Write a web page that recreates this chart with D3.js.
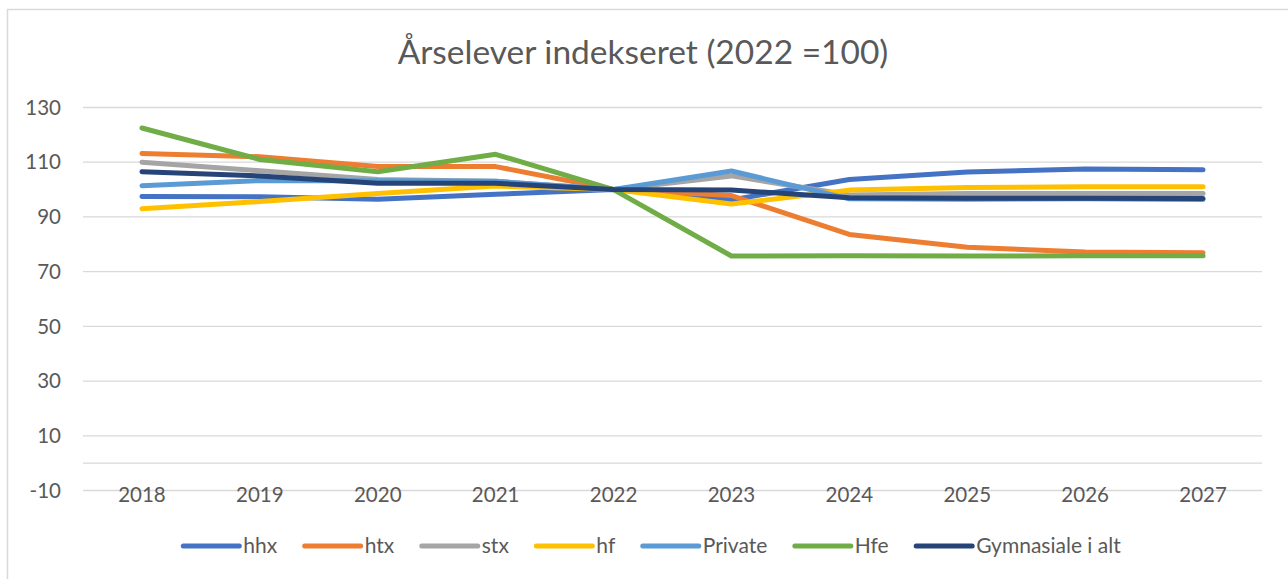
<!DOCTYPE html>
<html>
<head>
<meta charset="utf-8">
<script src="https://cdn.jsdelivr.net/npm/d3@7"></script>
<style>
  html, body { margin: 0; padding: 0; background: #fff; }
  svg { display: block; font-family: Lato, "Open Sans", sans-serif; }
</style>
</head>
<body>
<svg id="chart"></svg>
<script>
const years = ['2018', '2019', '2020', '2021', '2022', '2023', '2024', '2025', '2026', '2027']
const yTicks = [-10, 10, 30, 50, 70, 90, 110, 130]

const hhx = [97.5, 97.4, 96.5, 98.3, 100, 96.2, 103.7, 106.4, 107.5, 107.2]
const htx = [113.2, 112, 108.4, 108.4, 100, 97.8, 83.6, 78.9, 77.2, 76.9]
const stx = [110, 106.9, 103.7, 103, 100, 105, 98, 98.6, 98.6, 98.6]
const hf = [93, 95.6, 98.6, 101.3, 100, 94.7, 99.8, 100.8, 101, 101]
const privat = [101.4, 103.3, 103.2, 103, 100, 106.8, 96.6, 96.5, 96.6, 96.4]
const hfe = [122.5, 111, 106.5, 112.9, 100, 75.7, 75.8, 75.7, 75.8, 75.8]
const iAlt = [106.5, 105, 102.3, 102.3, 100, 99.8, 97, 96.8, 96.8, 96.7]

const seriesNames = ['hhx', 'htx', 'stx', 'hf', 'Private', 'Hfe', 'Gymnasiale i alt']
const seriesValues = [hhx, htx, stx, hf, privat, hfe, iAlt]
const seriesColors = ['#4472C4', '#ED7D31', '#A5A5A5', '#FFC000', '#5B9BD5', '#70AD47', '#264478']

const width = 1288
const height = 579
const plot = { left: 83, right: 1262, top: 107.5, bottom: 490.5 }

const svg = d3.select('#chart')
  .attr('width', width)
  .attr('height', height)

// chart frame
svg.append('rect')
  .attr('x', 7.5).attr('y', 9.5)
  .attr('width', width - 4).attr('height', height)
  .attr('fill', '#fff')
  .attr('stroke', '#d9d9d9')
  .attr('stroke-width', 1.5)

svg.append('text')
  .attr('x', 643).attr('y', 64)
  .attr('text-anchor', 'middle')
  .attr('font-size', 33.5)
  .attr('fill', '#595959')
  .text('Årselever indekseret (2022 =100)')

const x = d3.scaleBand().domain(years).range([plot.left, plot.right])
const y = d3.scaleLinear().domain([-10, 130]).range([plot.bottom, plot.top])

// gridlines
svg.append('g')
  .selectAll('line')
  .data(yTicks.concat([0]))
  .enter().append('line')
  .attr('x1', plot.left).attr('x2', plot.right)
  .attr('y1', d => y(d)).attr('y2', d => y(d))
  .attr('stroke', '#d9d9d9')
  .attr('stroke-width', 1.3)

// y labels
svg.append('g')
  .selectAll('text')
  .data(yTicks)
  .enter().append('text')
  .attr('x', 61).attr('y', d => y(d))
  .attr('dy', '0.35em')
  .attr('text-anchor', 'end')
  .attr('font-size', 20.5)
  .attr('fill', '#595959')
  .text(d => d)

// x labels
svg.append('g')
  .selectAll('text')
  .data(years)
  .enter().append('text')
  .attr('x', d => x(d) + x.bandwidth() / 2)
  .attr('y', y(-10) + 4)
  .attr('dy', '0.35em')
  .attr('text-anchor', 'middle')
  .attr('font-size', 20.5)
  .attr('fill', '#595959')
  .text(d => d)

const line = d3.line()
  .x((d, i) => x(years[i]) + x.bandwidth() / 2)
  .y(d => y(d))

svg.append('g')
  .selectAll('path')
  .data(seriesValues)
  .enter().append('path')
  .attr('d', d => line(d))
  .attr('fill', 'none')
  .attr('stroke', (d, i) => seriesColors[i])
  .attr('stroke-width', 5)
  .attr('stroke-linecap', 'round')
  .attr('stroke-linejoin', 'round')

// legend, laid out from measured text widths
const legend = svg.append('g')
const items = legend.selectAll('g')
  .data(seriesNames)
  .enter().append('g')

items.append('line')
  .attr('x1', 0).attr('x2', 56)
  .attr('y1', 0).attr('y2', 0)
  .attr('stroke', (d, i) => seriesColors[i])
  .attr('stroke-width', 5)
  .attr('stroke-linecap', 'round')

items.append('text')
  .attr('x', 60).attr('dy', '0.35em')
  .attr('font-size', 21)
  .attr('fill', '#595959')
  .text(d => d)

const widths = []
items.select('text').each(function () { widths.push(60 + this.getComputedTextLength()) })
const gap = 27.5
const total = d3.sum(widths) + gap * (widths.length - 1)
let pos = 652 - total / 2
items.attr('transform', (d, i) => {
  const t = 'translate(' + pos + ',' + 546 + ')'
  pos += widths[i] + gap
  return t
})
</script>
</body>
</html>
